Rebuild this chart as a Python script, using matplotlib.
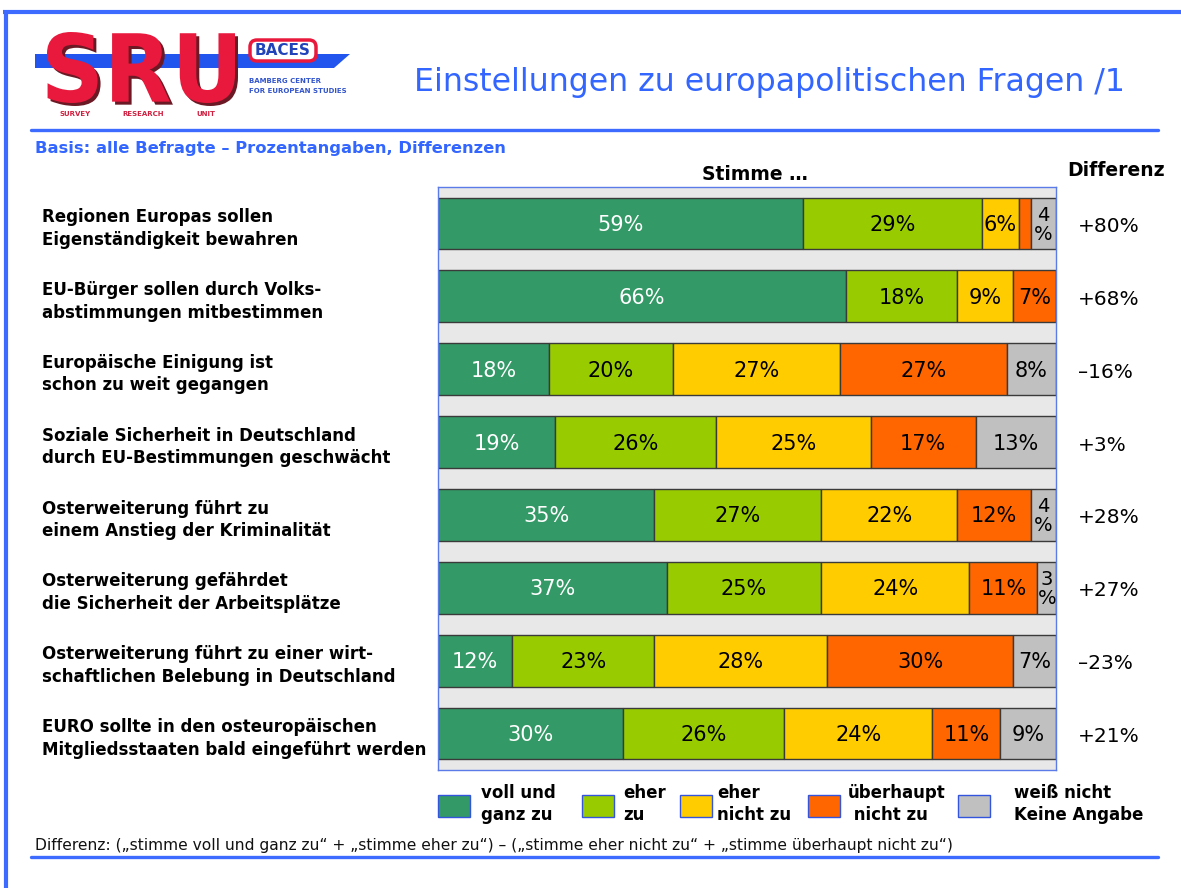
import matplotlib
matplotlib.use('Agg')
import matplotlib.pyplot as plt
from matplotlib.patches import Polygon, Rectangle, FancyBboxPatch, PathPatch
from matplotlib.textpath import TextPath
from matplotlib.font_manager import FontProperties
from matplotlib.transforms import Affine2D
import numpy as np

plt.rcParams['font.family'] = ['DejaVu Sans']

# ---------------- data ----------------
categories = [
    "Regionen Europas sollen\nEigenständigkeit bewahren",
    "EU-Bürger sollen durch Volks-\nabstimmungen mitbestimmen",
    "Europäische Einigung ist\nschon zu weit gegangen",
    "Soziale Sicherheit in Deutschland\ndurch EU-Bestimmungen geschwächt",
    "Osterweiterung führt zu\neinem Anstieg der Kriminalität",
    "Osterweiterung gefährdet\ndie Sicherheit der Arbeitsplätze",
    "Osterweiterung führt zu einer wirt-\nschaftlichen Belebung in Deutschland",
    "EURO sollte in den osteuropäischen\nMitgliedsstaaten bald eingeführt werden",
]
voll_und_ganz = [59, 66, 18, 19, 35, 37, 12, 30]
eher_zu = [29, 18, 20, 26, 27, 25, 23, 26]
eher_nicht_zu = [6, 9, 27, 25, 22, 24, 28, 24]
ueberhaupt_nicht = [2, 7, 27, 17, 12, 11, 30, 11]
weiss_nicht = [4, 0, 8, 13, 4, 3, 7, 9]
series_labels = ["voll und\nganz zu", "eher\nzu", "eher\nnicht zu",
                 "überhaupt\n nicht zu", "weiß nicht\nKeine Angabe"]
colors = ['#339966', '#99CC00', '#FFCC00', '#FF6600', '#C0C0C0']

series = [voll_und_ganz, eher_zu, eher_nicht_zu, ueberhaupt_nicht, weiss_nicht]
differenz = [a + b - c - d for a, b, c, d in zip(*series[:4])]

W, H = 1181, 888
BLUE = '#3D6BFF'
fig = plt.figure(figsize=(W / 100, H / 100), dpi=100)

# overlay axes in pixel coordinates
ov = fig.add_axes([0, 0, 1, 1], zorder=0)
ov.set_xlim(0, W)
ov.set_ylim(H, 0)
ov.axis('off')

# frame lines
ov.plot([3, W], [12.5, 12.5], color=BLUE, lw=3, solid_capstyle='butt')
ov.plot([6, 6], [11, H], color=BLUE, lw=3, solid_capstyle='butt')
ov.plot([31, 1158], [130, 130], color=BLUE, lw=2.4, solid_capstyle='round')
ov.plot([31, 1158], [857, 857], color=BLUE, lw=2.4, solid_capstyle='round')

# ---------------- logo ----------------
ov.add_patch(Polygon([(35, 54), (350, 54), (334, 68), (35, 68)], closed=True,
                     facecolor='#2255EE', edgecolor='none'))
tp = TextPath((0, 0), "SRU", size=100, prop=FontProperties(family='DejaVu Sans', weight='bold'))
bb = tp.get_extents()
x0, x1, y0, y1 = 47, 235, 32, 103
sx = (x1 - x0) / bb.width
sy = (y1 - y0) / bb.height
for dx, dy, col in [(3, 3, '#6B1A25'), (0, 0, '#E8193C')]:
    tr = Affine2D().translate(-bb.x0, -bb.y0).scale(sx, -sy).translate(x0 + dx, y1 + dy)
    ov.add_patch(PathPatch(tr.transform_path(tp), facecolor=col, edgecolor='none', zorder=3))
ov.add_patch(FancyBboxPatch((250, 40), 66, 21, boxstyle="round,pad=0,rounding_size=7",
                            facecolor='white', edgecolor='#E8193C', lw=2.5, zorder=4))
ov.text(283, 50.5, "BACES", ha='center', va='center', fontsize=11, fontweight='bold',
        color='#2244BB', zorder=5)
ov.text(249, 81, "BAMBERG CENTER", ha='left', va='center', fontsize=5, fontweight='bold', color='#3355CC')
ov.text(249, 91, "FOR EUROPEAN STUDIES", ha='left', va='center', fontsize=5, fontweight='bold', color='#3355CC')
for txt, xc in [("SURVEY", 75), ("RESEARCH", 143), ("UNIT", 206)]:
    ov.text(xc, 114, txt, ha='center', va='center', fontsize=5, fontweight='bold', color='#D02040')

# ---------------- titles ----------------
ov.text(769, 82, "Einstellungen zu europapolitischen Fragen /1", ha='center', va='center',
        fontsize=22.7, color='#3366FF')
ov.text(35, 149, "Basis: alle Befragte – Prozentangaben, Differenzen", ha='left', va='center',
        fontsize=11.8, fontweight='bold', color='#3366FF')
ov.text(755, 174, "Stimme …", ha='center', va='center', fontsize=13.5, fontweight='bold', color='black')
ov.text(1116, 170, "Differenz", ha='center', va='center', fontsize=13.5, fontweight='bold', color='black')

# ---------------- main chart ----------------
ax = fig.add_axes([438 / W, 1 - 770 / H, 618 / W, 583 / H], zorder=1)
ax.set_facecolor('#E8E8E8')
ax.set_xlim(0, 100)
ax.set_ylim(len(categories) - 0.5, -0.5)
ax.set_xticks([])
ax.set_yticks([])
for sp in ax.spines.values():
    sp.set_color('#5A7BE8')
    sp.set_linewidth(1)

ypos = np.arange(len(categories))
left = np.zeros(len(categories))
for si, vals in enumerate(series):
    vals = np.array(vals, dtype=float)
    ax.barh(ypos, vals, left=left, height=0.71, color=colors[si],
            edgecolor='#3a3a3a', linewidth=1)
    for i, v in enumerate(vals):
        xc = left[i] + v / 2
        tc = 'white' if si == 0 else 'black'
        if v >= 5:
            ax.text(xc, i + 0.02, f"{int(v)}%", ha='center', va='center', fontsize=15, color=tc)
        elif v >= 3:
            ax.text(xc, i + 0.02, f"{int(v)}\n%", ha='center', va='center', fontsize=14,
                    color=tc, linespacing=1.0)
    left += vals

# row labels and differences
for i, cat in enumerate(categories):
    yc = 223.4 + i * 72.875
    ov.text(42, yc + 5, cat, ha='left', va='center', fontsize=12, fontweight='bold',
            color='black', linespacing=1.33)
    d = differenz[i]
    s = f"+{d}%" if d >= 0 else f"–{abs(d)}%"
    ov.text(1078, yc + 3, s, ha='left', va='center', fontsize=14.5, color='black')

# ---------------- legend ----------------
sq_x = [438, 582, 680, 808, 958]
tx_x = [481, 623, 717, 848, 1014]
for k in range(5):
    ov.add_patch(Rectangle((sq_x[k], 795), 32, 22, facecolor=colors[k], edgecolor='#3355DD', lw=1))
    ov.text(tx_x[k], 804, series_labels[k], ha='left', va='center', fontsize=12,
            fontweight='bold', color='black', linespacing=1.35)

# footer
ov.text(35, 845, "Differenz: („stimme voll und ganz zu“ + „stimme eher zu“) – („stimme eher nicht zu“ + „stimme überhaupt nicht zu“)",
        ha='left', va='center', fontsize=11.2, color='#111111')

fig.savefig('out.png', dpi=100)
